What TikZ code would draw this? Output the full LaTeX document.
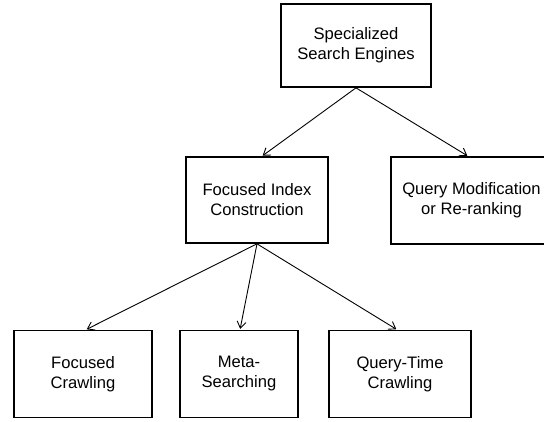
\documentclass[tikz,border=0pt]{standalone}
\usepackage{fontspec}
\setmainfont{Liberation Sans}
\usetikzlibrary{arrows.meta}
\begin{document}
\begin{tikzpicture}[x=1pt,y=1pt,
  box/.style={draw, line width=1.7pt, inner sep=0pt, align=center,
    font=\fontsize{16.6}{20}\selectfont, minimum height=85pt},
  conn/.style={line width=0.9pt, -{Straight Barb[length=6.5pt,width=9pt]}, shorten >=0.8pt}]
\useasboundingbox (0,0) rectangle (544,422);
\clip (0,0) rectangle (544,422);
\node[box, minimum width=150pt, minimum height=83pt] (top) at (356,376.5) {Specialized\\Search Engines};
\node[box, minimum width=142pt, minimum height=86pt] (fic) at (257,222) {Focused Index\\Construction};
\node[box, minimum width=161pt, minimum height=87pt] (qmr) at (471.5,221.5) {Query Modification\\or Re-ranking};
\node[box, minimum width=138pt, minimum height=87pt] (fc) at (83,48) {Focused\\Crawling};
\node[box, minimum width=118pt, minimum height=87pt] (ms) at (239,48) {Meta-\\Searching};
\node[box, minimum width=142pt, minimum height=87pt] (qt) at (400,48) {Query-Time\\Crawling};
\draw[conn] (top.south) -- ([xshift=5pt]fic.north);
\draw[conn] (top.south) -- ([xshift=-3.5pt]qmr.north);
\draw[conn] (fic.south) -- ([xshift=3pt]fc.north);
\draw[conn] (fic.south) -- ([xshift=1pt]ms.north);
\draw[conn] (fic.south) -- ([xshift=-3pt]qt.north);
\end{tikzpicture}
\end{document}
